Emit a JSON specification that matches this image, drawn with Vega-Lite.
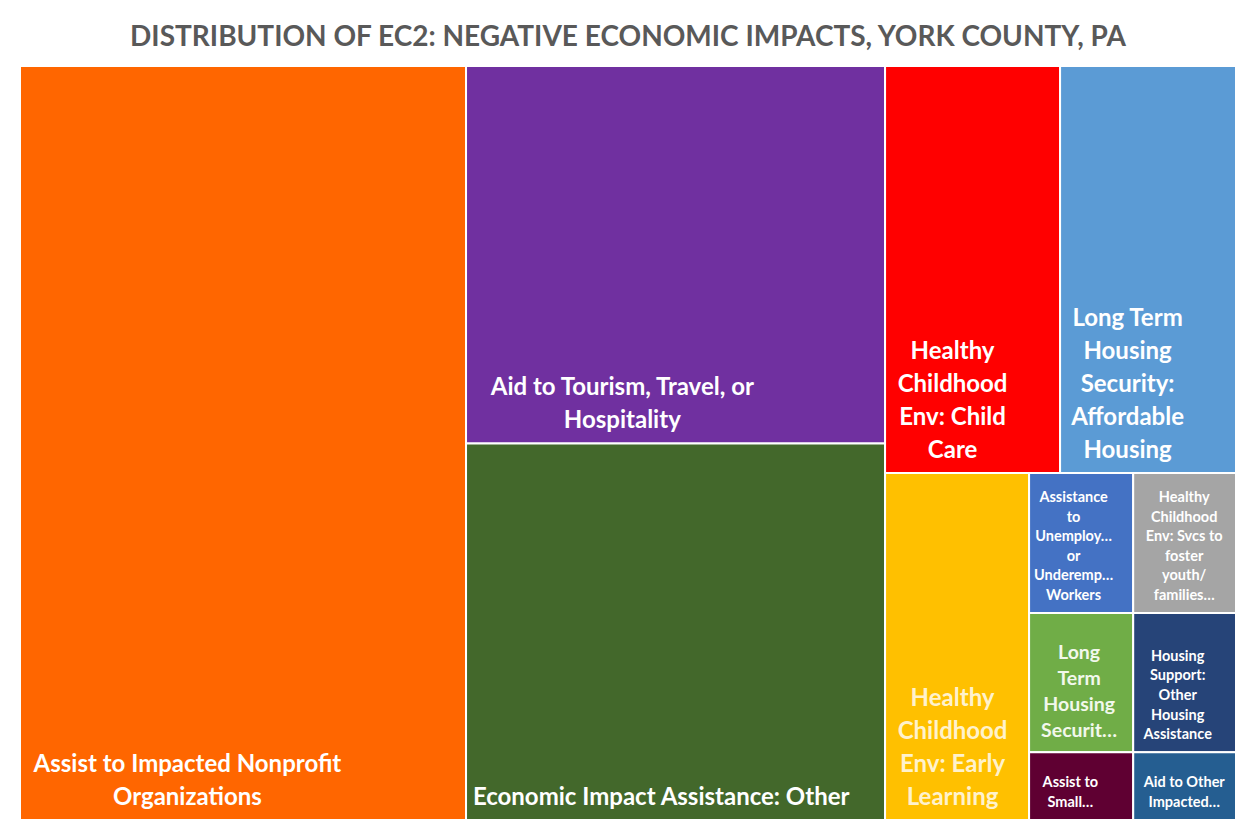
{
  "$schema": "https://vega.github.io/schema/vega-lite/v6.json",
  "autosize": {"type": "none"},
  "width": 1216,
  "height": 754,
  "padding": {"left": 20, "top": 66, "right": 13, "bottom": 14},
  "background": "white",
  "config": {"view": {"stroke": null}, "font": "Lato"},
  "title": {
    "text": "DISTRIBUTION OF EC2: NEGATIVE ECONOMIC IMPACTS, YORK COUNTY, PA",
    "anchor": "middle",
    "font": "Lato",
    "fontSize": 28,
    "fontWeight": "bold",
    "color": "#595959",
    "offset": 13
  },
  "data": {
    "values": [
      {"name": "Assist to Impacted Nonprofit Organizations", "value": 36.68, "o1": 1, "o2": 1, "o3": 1, "o4": 1, "o5": 1, "label": ["Assist to Impacted Nonprofit", "Organizations"]},
      {"name": "Aid to Tourism, Travel, or Hospitality", "value": 17.25, "o1": 2, "o2": 1, "o3": 1, "o4": 1, "o5": 1, "label": ["Aid to Tourism, Travel, or", "Hospitality"]},
      {"name": "Economic Impact Assistance: Other", "value": 17.21, "o1": 2, "o2": 2, "o3": 1, "o4": 1, "o5": 1, "label": ["Economic Impact Assistance: Other"]},
      {"name": "Healthy Childhood Env: Child Care", "value": 7.77, "o1": 3, "o2": 1, "o3": 1, "o4": 1, "o5": 1, "label": ["Healthy", "Childhood", "Env: Child", "Care"]},
      {"name": "Long Term Housing Security: Affordable Housing", "value": 7.81, "o1": 3, "o2": 1, "o3": 2, "o4": 1, "o5": 1, "label": ["Long Term", "Housing", "Security:", "Affordable", "Housing"]},
      {"name": "Healthy Childhood Env: Early Learning", "value": 5.45, "o1": 3, "o2": 2, "o3": 1, "o4": 1, "o5": 1, "label": ["Healthy", "Childhood", "Env: Early", "Learning"]},
      {"name": "Assistance to Unemployed or Underemployed Workers", "value": 1.59, "o1": 3, "o2": 2, "o3": 2, "o4": 1, "o5": 1, "label": ["Assistance", "to", "Unemploy…", "or", "Underemp…", "Workers"]},
      {"name": "Healthy Childhood Env: Svcs to foster youth/families", "value": 1.57, "o1": 3, "o2": 2, "o3": 2, "o4": 1, "o5": 2, "label": ["Healthy", "Childhood", "Env: Svcs to", "foster", "youth/", "families…"]},
      {"name": "Long Term Housing Security: Services for Unhoused", "value": 1.58, "o1": 3, "o2": 2, "o3": 2, "o4": 2, "o5": 1, "label": ["Long", "Term", "Housing", "Securit…"]},
      {"name": "Housing Support: Other Housing Assistance", "value": 1.56, "o1": 3, "o2": 2, "o3": 2, "o4": 2, "o5": 2, "label": ["Housing", "Support:", "Other", "Housing", "Assistance"]},
      {"name": "Assist to Small Businesses", "value": 0.77, "o1": 3, "o2": 2, "o3": 2, "o4": 3, "o5": 1, "label": ["Assist to", "Small…"]},
      {"name": "Aid to Other Impacted Industries", "value": 0.76, "o1": 3, "o2": 2, "o3": 2, "o4": 3, "o5": 2, "label": ["Aid to Other", "Impacted…"]}
    ]
  },
  "transform": [
    {"joinaggregate": [{"op": "sum", "field": "value", "as": "T"}]},
    {"joinaggregate": [{"op": "sum", "field": "value", "as": "g1"}], "groupby": ["o1"]},
    {"joinaggregate": [{"op": "sum", "field": "value", "as": "g2"}], "groupby": ["o1", "o2"]},
    {"joinaggregate": [{"op": "sum", "field": "value", "as": "g3"}], "groupby": ["o1", "o2", "o3"]},
    {"joinaggregate": [{"op": "sum", "field": "value", "as": "g4"}], "groupby": ["o1", "o2", "o3", "o4"]},
    {"window": [{"op": "sum", "field": "value", "as": "c1"}], "sort": [{"field": "o1"}], "frame": [null, 0], "ignorePeers": false},
    {"window": [{"op": "sum", "field": "value", "as": "c2"}], "groupby": ["o1"], "sort": [{"field": "o2"}], "frame": [null, 0], "ignorePeers": false},
    {"window": [{"op": "sum", "field": "value", "as": "c3"}], "groupby": ["o1", "o2"], "sort": [{"field": "o3"}], "frame": [null, 0], "ignorePeers": false},
    {"window": [{"op": "sum", "field": "value", "as": "c4"}], "groupby": ["o1", "o2", "o3"], "sort": [{"field": "o4"}], "frame": [null, 0], "ignorePeers": false},
    {"window": [{"op": "sum", "field": "value", "as": "c5"}], "groupby": ["o1", "o2", "o3", "o4"], "sort": [{"field": "o5"}], "frame": [null, 0], "ignorePeers": false},
    {"calculate": "(datum.c1 - datum.g1) / datum.T", "as": "xa"},
    {"calculate": "datum.c1 / datum.T", "as": "xb"},
    {"calculate": "(datum.c2 - datum.g2) / datum.g1", "as": "ya"},
    {"calculate": "datum.c2 / datum.g1", "as": "yb"},
    {"calculate": "datum.xa + (datum.xb - datum.xa) * (datum.c3 - datum.g3) / datum.g2", "as": "xc"},
    {"calculate": "datum.xa + (datum.xb - datum.xa) * datum.c3 / datum.g2", "as": "xd"},
    {"calculate": "datum.ya + (datum.yb - datum.ya) * (datum.c4 - datum.g4) / datum.g3", "as": "y0"},
    {"calculate": "datum.ya + (datum.yb - datum.ya) * datum.c4 / datum.g3", "as": "y1"},
    {"calculate": "datum.xc + (datum.xd - datum.xc) * (datum.c5 - datum.value) / datum.g4", "as": "x0"},
    {"calculate": "datum.xc + (datum.xd - datum.xc) * datum.c5 / datum.g4", "as": "x1"},
    {"calculate": "max(length(datum.label[0] || ''), length(datum.label[1] || ''), length(datum.label[2] || ''), length(datum.label[3] || ''), length(datum.label[4] || ''), length(datum.label[5] || ''))", "as": "maxLen"},
    {"calculate": "length(datum.label)", "as": "nLines"}
  ],
  "layer": [
    {
      "mark": {"type": "rect", "stroke": "white", "strokeWidth": 2},
      "encoding": {
        "x": {"field": "x0", "type": "quantitative", "scale": {"domain": [0, 1], "nice": false, "zero": false}, "axis": null},
        "x2": {"field": "x1"},
        "y": {"field": "y0", "type": "quantitative", "scale": {"domain": [0, 1], "nice": false, "zero": false, "reverse": true}, "axis": null},
        "y2": {"field": "y1"},
        "color": {
          "field": "name",
          "type": "nominal",
          "legend": null,
          "scale": {
            "domain": [
              "Assist to Impacted Nonprofit Organizations",
              "Aid to Tourism, Travel, or Hospitality",
              "Economic Impact Assistance: Other",
              "Healthy Childhood Env: Child Care",
              "Long Term Housing Security: Affordable Housing",
              "Healthy Childhood Env: Early Learning",
              "Assistance to Unemployed or Underemployed Workers",
              "Healthy Childhood Env: Svcs to foster youth/families",
              "Long Term Housing Security: Services for Unhoused",
              "Housing Support: Other Housing Assistance",
              "Assist to Small Businesses",
              "Aid to Other Impacted Industries"
            ],
            "range": ["#FF6600", "#7030A0", "#43682B", "#FF0000", "#5B9BD5", "#FFC000", "#4472C4", "#A5A5A5", "#70AD47", "#264478", "#5F0032", "#255E91"]
          }
        },
        "tooltip": [{"field": "name", "type": "nominal"}, {"field": "value", "type": "quantitative"}]
      }
    },
    {
      "transform": [
        {"filter": "datum.value > 5"},
        {"calculate": "datum.y1 - ((datum.nLines - 1) * 33 + 10) / 754", "as": "yLabel"},
        {"calculate": "datum.x0 + (12 + min(datum.maxLen * 11.1, (datum.x1 - datum.x0) * 1216 - 24) / 2) / 1216", "as": "xLabel"}
      ],
      "mark": {"type": "text", "align": "center", "baseline": "bottom", "font": "Lato", "fontWeight": "bold", "fontSize": 24, "lineHeight": 33},
      "encoding": {
        "x": {"field": "xLabel", "type": "quantitative"},
        "y": {"field": "yLabel", "type": "quantitative"},
        "text": {"field": "label"},
        "color": {"condition": {"test": "datum.o1 === 3 && datum.o2 === 2", "value": "#FFF2CC"}, "value": "#FFFFFF"}
      }
    },
    {
      "transform": [
        {"filter": "datum.value <= 5 && datum.o4 === 2 && datum.o5 === 1"},
        {"calculate": "datum.y1 - ((datum.nLines - 1) * 26 + 11) / 754", "as": "yLabel"},
        {"calculate": "datum.x0 + (12 + min(datum.maxLen * 9.5, (datum.x1 - datum.x0) * 1216 - 24) / 2) / 1216", "as": "xLabel"}
      ],
      "mark": {"type": "text", "align": "center", "baseline": "bottom", "font": "Lato", "fontWeight": "bold", "fontSize": 19.5, "lineHeight": 26, "color": "#F2F8EC"},
      "encoding": {
        "x": {"field": "xLabel", "type": "quantitative"},
        "y": {"field": "yLabel", "type": "quantitative"},
        "text": {"field": "label"}
      }
    },
    {
      "transform": [
        {"filter": "datum.value <= 5 && !(datum.o4 === 2 && datum.o5 === 1)"},
        {"calculate": "datum.y1 - ((datum.nLines - 1) * 19.6 + 10) / 754", "as": "yLabel"},
        {"calculate": "datum.x0 + (12 + min(datum.maxLen * 6.5, (datum.x1 - datum.x0) * 1216 - 24) / 2) / 1216", "as": "xLabel"}
      ],
      "mark": {"type": "text", "align": "center", "baseline": "bottom", "font": "Lato", "fontWeight": "bold", "fontSize": 14.5, "lineHeight": 19.6, "color": "#FFFFFF"},
      "encoding": {
        "x": {"field": "xLabel", "type": "quantitative"},
        "y": {"field": "yLabel", "type": "quantitative"},
        "text": {"field": "label"}
      }
    }
  ]
}
